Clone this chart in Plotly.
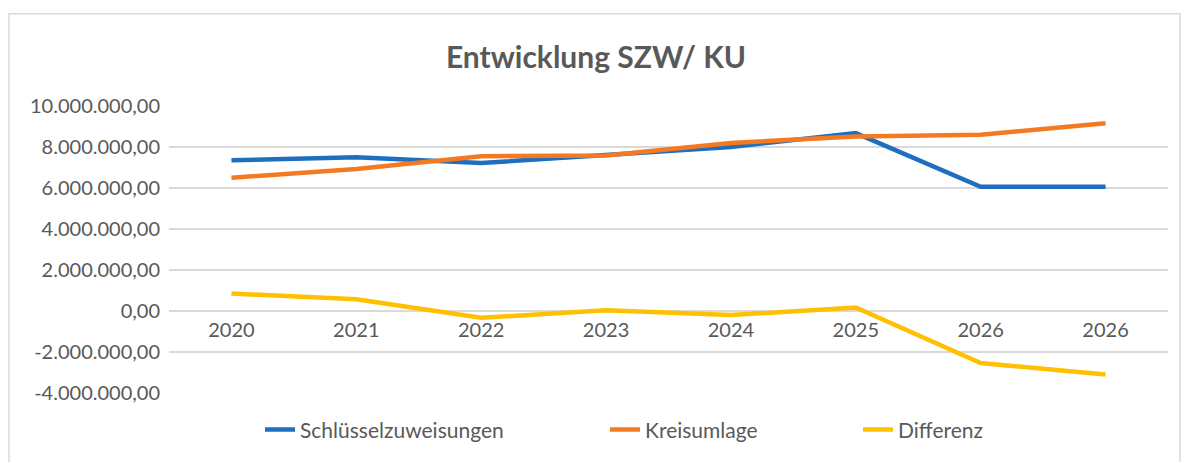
import plotly.graph_objects as go

# Data (values in EUR)
categories = ["2020", "2021", "2022", "2023", "2024", "2025", "2026", "2026"]
schluesselzuweisungen = [7350000, 7500000, 7220000, 7620000, 8000000, 8680000, 6060000, 6060000]
kreisumlage = [6500000, 6930000, 7550000, 7580000, 8200000, 8510000, 8600000, 9160000]
differenz = [850000, 570000, -330000, 40000, -200000, 170000, -2540000, -3100000]

y_tickvals = [-4000000, -2000000, 0, 2000000, 4000000, 6000000, 8000000, 10000000]
y_ticktext = ["-4.000.000,00", "-2.000.000,00", "0,00", "2.000.000,00", "4.000.000,00",
              "6.000.000,00", "8.000.000,00", "10.000.000,00"]

x_pos = list(range(len(categories)))

# page body has an 8px default margin; compensate so screen coords match
OFF = 8
W, H = 1191 - OFF, 462 - OFF
plot_left, plot_right, plot_top, plot_bottom = 169 - OFF, 1168 - OFF, 106 - OFF, 395 - OFF
L, R, T, B = plot_left, W - plot_right, plot_top, H - plot_bottom
pw, ph = W - L - R, H - T - B

def px2x(px):
    return (px - OFF - L) / pw

def px2y(py):
    return (H - B - (py - OFF)) / ph

text_col = "#595959"
grid_col = "#D9D9D9"
font_fam = "Lato, 'DejaVu Sans', sans-serif"

fig = go.Figure()
fig.add_trace(go.Scatter(x=x_pos, y=schluesselzuweisungen, mode="lines", name="Schlüsselzuweisungen",
                         line=dict(color="#1F6FC0", width=4.5), legend="legend"))
fig.add_trace(go.Scatter(x=x_pos, y=kreisumlage, mode="lines", name="Kreisumlage",
                         line=dict(color="#F47A22", width=4.5), legend="legend2"))
fig.add_trace(go.Scatter(x=x_pos, y=differenz, mode="lines", name="Differenz",
                         line=dict(color="#FFC000", width=4.5), legend="legend3"))

y_min, y_max = -4000000, 10000000
zero_frac = (0 - y_min) / (y_max - y_min)

leg_common = dict(orientation="h", yanchor="middle", xanchor="left",
                  font=dict(family=font_fam, size=21, color=text_col),
                  bgcolor="rgba(0,0,0,0)")

fig.update_layout(
    width=W, height=H,
    margin=dict(l=L, r=R, t=T, b=B, pad=0),
    paper_bgcolor="white", plot_bgcolor="white",
    font=dict(family=font_fam, color=text_col),
    title=dict(text="<b>Entwicklung SZW/ KU</b>", x=(596 - OFF) / W, xref="container",
               xanchor="center", y=1 - (57 - OFF) / H, yref="container", yanchor="middle",
               font=dict(family=font_fam, size=30, color=text_col)),
    xaxis=dict(range=[-0.5, len(categories) - 0.5], tickvals=x_pos, ticktext=categories,
               anchor="free", position=zero_frac, showgrid=False, zeroline=False, showline=False,
               ticks="outside", ticklen=1, tickcolor="rgba(0,0,0,0)",
               tickfont=dict(family=font_fam, size=20, color=text_col)),
    yaxis=dict(range=[y_min, y_max], tickvals=y_tickvals, ticktext=y_ticktext,
               showgrid=True, gridcolor=grid_col, gridwidth=1.5,
               zeroline=True, zerolinecolor=grid_col, zerolinewidth=1.5, showline=False,
               ticks="", ticklabelstandoff=8,
               tickfont=dict(family=font_fam, size=20, color=text_col)),
    legend=dict(x=px2x(260), y=px2y(432), **leg_common),
    legend2=dict(x=px2x(605), y=px2y(432), **leg_common),
    legend3=dict(x=px2x(858), y=px2y(432), **leg_common),
    showlegend=True,
    shapes=[dict(type="rect", xref="paper", yref="paper",
                 x0=px2x(9), x1=px2x(1180), y0=px2y(475), y1=px2y(13),
                 line=dict(color=grid_col, width=1.5), fillcolor="rgba(0,0,0,0)", layer="below")],
)

fig.write_html("out.html")
